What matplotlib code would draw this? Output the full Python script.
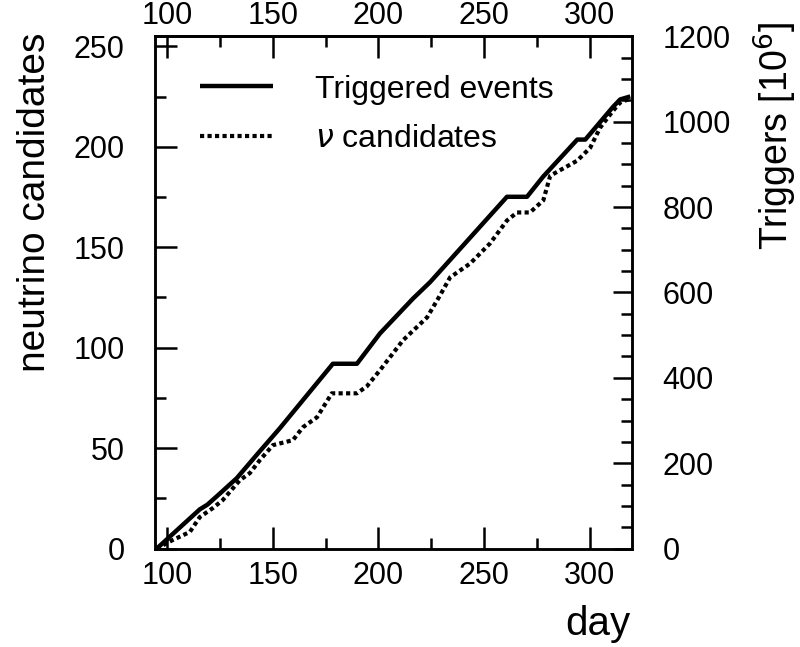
import matplotlib
matplotlib.use("Agg")
import matplotlib.pyplot as plt
from matplotlib.ticker import MultipleLocator

plt.rcParams["font.family"] = ["Liberation Sans", "DejaVu Sans"]

# triggered events (right axis, 10^6)
trig_day = [95.0, 115.4, 119.0, 124.9, 132.9, 143.8, 153.3, 178.4, 189.8,
            200.7, 216.4, 224.4, 260.8, 270.3, 277.9, 294.1, 297.9, 311.1,
            314.4, 319.2]
trig_val = [0, 92, 103, 129, 165, 228, 282, 433, 433,
            504, 586, 624, 824, 824, 871, 958, 958, 1035,
            1052, 1059]

# neutrino candidates (left axis)
nu_day = [95.0, 102.6, 110.7, 115.4, 121.6, 126.3, 134.4, 139.1, 143.8,
          150.0, 159.5, 164.2, 170.9, 177.9, 189.8, 194.5, 200.7, 211.6,
          223.0, 229.1, 233.9, 243.4, 252.8, 260.8, 265.6, 271.7, 278.0,
          281.3, 294.1, 300.2, 304.9, 311.1, 314.4, 319.2]
nu_val = [0, 4.3, 8.3, 15.7, 20.2, 24.2, 34.1, 37.6, 44.0,
          51.5, 54.0, 60.4, 65.4, 77.3, 77.3, 80.8, 88.8, 103.7,
          115.1, 126.0, 135.0, 141.9, 151.9, 163.3, 167.3, 167.3, 173.3,
          185.6, 193.1, 199.5, 209.5, 218.0, 222.0, 224.0]

fig = plt.figure(figsize=(8, 6.47), dpi=100)
ax = fig.add_axes([0.194, 0.152, 0.596, 0.792])
ax2 = ax.twinx()

l2, = ax.plot(nu_day, nu_val, color="black", lw=3,
              linestyle=(0, (1, 0.8)), dash_capstyle="butt",
              label=r"$\nu$ candidates")
l1, = ax2.plot(trig_day, trig_val, color="black", lw=3.2,
               solid_capstyle="butt", label="Triggered events")

ax.set_xlim(94.3, 320)
ax.set_ylim(0, 255)
ax2.set_ylim(0, 1200)

ax.xaxis.set_major_locator(MultipleLocator(50))
ax.xaxis.set_minor_locator(MultipleLocator(25))
ax.yaxis.set_major_locator(MultipleLocator(50))
ax.yaxis.set_minor_locator(MultipleLocator(25))
ax2.yaxis.set_major_locator(MultipleLocator(200))
ax2.yaxis.set_minor_locator(MultipleLocator(50))

# day axis repeated on top
top = ax.secondary_xaxis("top")
top.xaxis.set_major_locator(MultipleLocator(50))
top.xaxis.set_minor_locator(MultipleLocator(25))

for a in (ax, ax2, top):
    for s in a.spines.values():
        s.set_linewidth(1.8)

ax.tick_params(axis="x", which="both", direction="in", top=False,
               width=1.8, labelsize=22, pad=9)
ax.tick_params(axis="y", which="both", direction="in", right=False,
               width=1.8, labelsize=22, pad=22)
ax.tick_params(which="major", length=16)
ax.tick_params(which="minor", length=8)
top.tick_params(axis="x", which="both", direction="in", width=1.8,
                labelsize=22, pad=4)
top.tick_params(which="major", length=16)
top.tick_params(which="minor", length=8)
ax2.tick_params(axis="y", which="both", direction="in", width=1.8,
                labelsize=22, pad=22)
ax2.tick_params(which="major", length=14)
ax2.tick_params(which="minor", length=8)

fig.text(35 / 800, 1 - 33 / 647, "neutrino candidates", rotation=90,
         ha="center", va="top", fontsize=28)
fig.text(775 / 800, 1 - 22 / 647, "Triggers [10$^6$]", rotation=90,
         ha="center", va="top", fontsize=27)
fig.text(630 / 800, 1 - 624 / 647, "day", ha="right", va="center",
         fontsize=29)

ax.legend(handles=[l1, l2], loc="upper left", bbox_to_anchor=(0.093, 0.925),
          frameon=False, fontsize=23, handlelength=2.3, handletextpad=1.3,
          labelspacing=0.62, borderpad=0, borderaxespad=0)

fig.savefig("out.png", dpi=100)
